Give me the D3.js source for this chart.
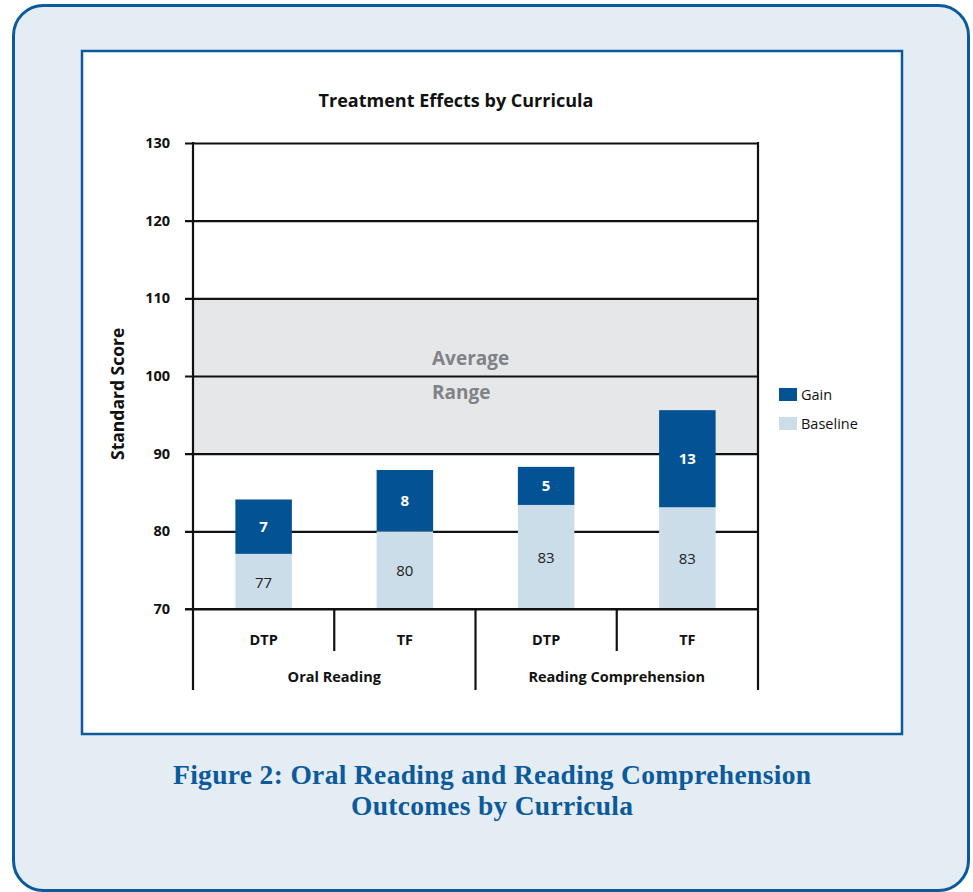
<!DOCTYPE html>
<html><head><meta charset="utf-8">
<script src="https://d3js.org/d3.v7.min.js"></script>
<style>body{margin:0;background:#fff}svg{display:block}</style>
</head><body>
<script>
const subCategories = ["DTP", "TF", "DTP", "TF"];
const groups = ["Oral Reading", "Reading Comprehension"];
const baseline = [77.1, 80, 83.4, 83.1];
const gain = [7, 7.9, 4.9, 12.5];
const baselineLabels = ["77", "80", "83", "83"];
const gainLabels = ["7", "8", "5", "13"];
const yTicks = [70, 80, 90, 100, 110, 120, 130];
const averageBand = [90, 110];
const seriesNames = ["Gain", "Baseline"];

const W = 973, H = 892;
const C = {gain: "#035394", base: "#cbdde9", frame: "#0c5a9b", bg: "#e4ecf4", band: "#e6e7e9"};
const font = "'Open Sans', sans-serif";

const svg = d3.select("body").append("svg").attr("width", W).attr("height", H);

svg.append("rect").attr("x", 13.5).attr("y", 5.5).attr("width", 955).attr("height", 885)
  .attr("rx", 30).attr("fill", C.bg).attr("stroke", C.frame).attr("stroke-width", 3);
svg.append("rect").attr("x", 82).attr("y", 51).attr("width", 820).attr("height", 683)
  .attr("fill", "#fff").attr("stroke", C.frame).attr("stroke-width", 2.5);

const L = 193, R = 758, T = 143, B = 609;
const y = d3.scaleLinear().domain([70, 130]).range([B, T]);
const idx = d3.range(subCategories.length);
const x = d3.scaleBand().domain(idx).range([L, R]).paddingInner(0.6).paddingOuter(0.3);
const xg = d3.scaleBand().domain(groups).range([L, R]);

// average band
svg.append("rect").attr("x", L).attr("width", R - L)
  .attr("y", y(averageBand[1])).attr("height", y(averageBand[0]) - y(averageBand[1]))
  .attr("fill", C.band);

// grid + ticks
const yAxis = d3.axisLeft(y).tickValues(yTicks).tickSize(-(R - 185)).tickPadding(15);
const ga = svg.append("g").attr("transform", `translate(185,0)`).call(yAxis);
ga.select(".domain").remove();
ga.selectAll(".tick line").attr("stroke", "#111").attr("stroke-width", 2.2);
ga.selectAll(".tick text").attr("font-family", font).attr("font-weight", "bold")
  .attr("font-size", 14.5).attr("fill", "#111");

// average text
[["Average", 102.3], ["Range", 97.9]].forEach(([t, v]) => {
  svg.append("text").attr("x", 432).attr("y", y(v)).attr("dy", "0.35em")
    .attr("font-family", font).attr("font-weight", "bold").attr("font-size", 19).attr("fill", "#808285")
    .text(t);
});

// bars
const bars = svg.append("g");
bars.selectAll(".b").data(idx).join("rect")
  .attr("x", i => x(i)).attr("width", x.bandwidth())
  .attr("y", i => y(baseline[i])).attr("height", i => y(70) - y(baseline[i]))
  .attr("fill", C.base);
bars.selectAll(".g").data(idx).join("rect")
  .attr("x", i => x(i)).attr("width", x.bandwidth())
  .attr("y", i => y(baseline[i] + gain[i])).attr("height", i => y(baseline[i]) - y(baseline[i] + gain[i]))
  .attr("fill", C.gain);
bars.selectAll(".bl").data(idx).join("text")
  .attr("x", i => x(i) + x.bandwidth() / 2).attr("y", i => (y(70) + y(baseline[i])) / 2 + 1)
  .attr("dy", "0.35em").attr("text-anchor", "middle").attr("font-family", font)
  .attr("font-size", 15).attr("fill", "#222").text(i => baselineLabels[i]);
bars.selectAll(".gl").data(idx).join("text")
  .attr("x", i => x(i) + x.bandwidth() / 2).attr("y", i => (y(baseline[i]) + y(baseline[i] + gain[i])) / 2)
  .attr("dy", "0.35em").attr("text-anchor", "middle").attr("font-family", font).attr("font-weight", "bold")
  .attr("font-size", 15).attr("fill", "#fff").text(i => gainLabels[i]);

// axes lines
const ln = (x1, y1, x2, y2) => svg.append("line").attr("x1", x1).attr("y1", y1).attr("x2", x2).attr("y2", y2)
  .attr("stroke", "#111").attr("stroke-width", 2.2);
ln(L, T - 1, L, 690);
ln(R, T - 1, R, 690);
ln(185, B, R, B);
const step = x.step();
idx.slice(1).forEach(i => {
  const xx = L + step * i;
  ln(xx, B, xx, i === 2 ? 690 : 651);
});

// category labels
svg.selectAll(".sc").data(idx).join("text")
  .attr("x", i => x(i) + x.bandwidth() / 2).attr("y", 640).attr("dy", "0.35em").attr("text-anchor", "middle")
  .attr("font-family", font).attr("font-weight", "bold").attr("font-size", 14.5).attr("fill", "#111")
  .text(i => subCategories[i]);
svg.selectAll(".gr").data(groups).join("text")
  .attr("x", d => xg(d) + xg.bandwidth() / 2).attr("y", 677).attr("dy", "0.35em").attr("text-anchor", "middle")
  .attr("font-family", font).attr("font-weight", "bold").attr("font-size", 14.5).attr("fill", "#111")
  .text(d => d);

// title
svg.append("text").attr("x", 456).attr("y", 101).attr("dy", "0.35em").attr("text-anchor", "middle")
  .attr("font-family", font).attr("font-weight", "bold").attr("font-size", 18).attr("fill", "#111")
  .text("Treatment Effects by Curricula");

// y title
svg.append("text").attr("transform", `translate(118,${y(97.7)}) rotate(-90)`).attr("dy", "0.35em")
  .attr("text-anchor", "middle").attr("font-family", font).attr("font-weight", "bold")
  .attr("font-size", 17.5).attr("fill", "#111").text("Standard Score");

// legend
const lg = svg.append("g").attr("transform", "translate(779,388)");
seriesNames.forEach((s, i) => {
  lg.append("rect").attr("x", 0).attr("y", i * 29).attr("width", 18).attr("height", 13)
    .attr("fill", s === "Gain" ? C.gain : C.base);
  lg.append("text").attr("x", 22).attr("y", i * 29 + 7).attr("dy", "0.35em")
    .attr("font-family", font).attr("font-size", 14.5).attr("fill", "#111").text(s);
});

// caption
const cap = svg.append("text").attr("text-anchor", "middle").attr("font-family", "'Liberation Serif', serif")
  .attr("font-weight", "bold").attr("font-size", 27.5).attr("fill", "#0c5a9b");
cap.append("tspan").attr("x", 492).attr("y", 784).attr("textLength", 638).attr("lengthAdjust", "spacing")
  .text("Figure 2: Oral Reading and Reading Comprehension");
cap.append("tspan").attr("x", 492).attr("y", 815).attr("textLength", 282).attr("lengthAdjust", "spacing")
  .text("Outcomes by Curricula");
</script>
</body></html>
